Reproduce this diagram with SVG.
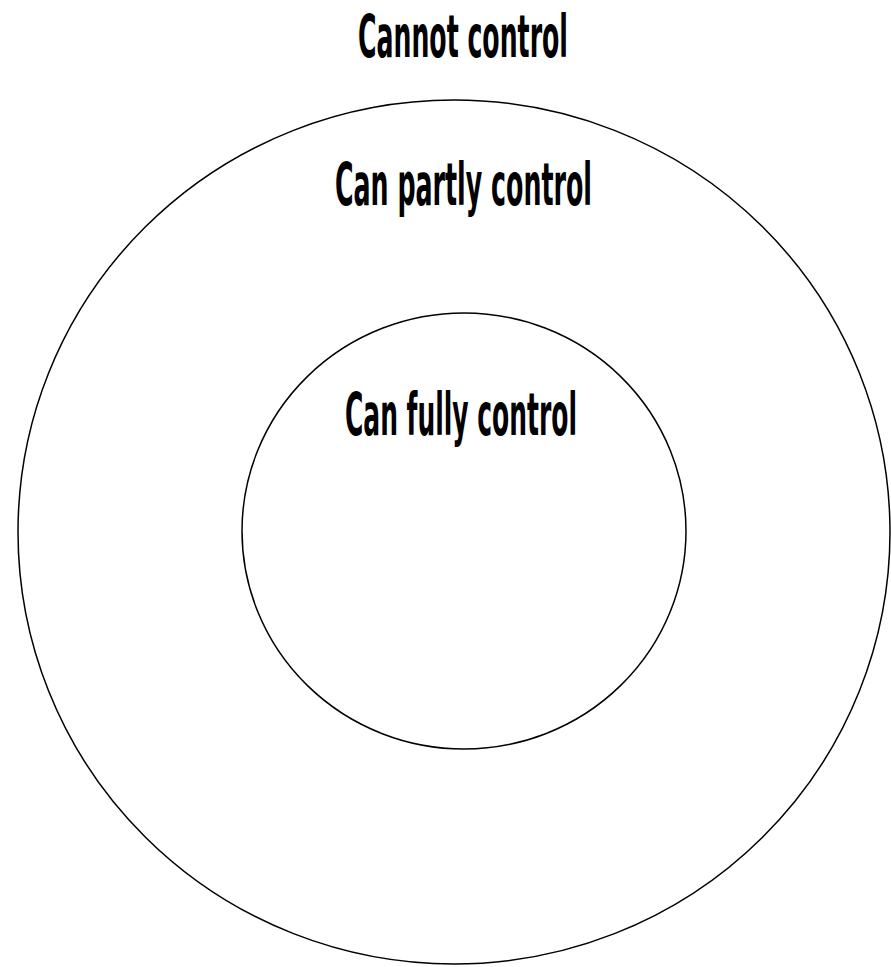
<svg xmlns="http://www.w3.org/2000/svg" width="891" height="967" viewBox="0 0 891 967">
<style>
.ring{fill:none;stroke:#000;stroke-width:1.5}
.lbl{font-family:"Liberation Sans Narrow","DejaVu Sans Condensed","Liberation Sans",sans-serif;font-weight:bold;font-size:58px;fill:#000}
</style>
<rect width="891" height="967" fill="#fff"/>
<g id="outer"><ellipse class="ring" cx="454" cy="532" rx="436" ry="432"/></g>
<g id="inner"><ellipse class="ring" cx="464" cy="531" rx="222" ry="218"/></g>
<g id="cannot"><text class="lbl" x="358" y="57" textLength="210" lengthAdjust="spacingAndGlyphs">Cannot control</text></g>
<g id="partly"><text class="lbl" x="335" y="205" textLength="257" lengthAdjust="spacingAndGlyphs">Can partly control</text></g>
<g id="fully"><text class="lbl" x="345" y="435" textLength="232" lengthAdjust="spacingAndGlyphs">Can fully control</text></g>
</svg>
